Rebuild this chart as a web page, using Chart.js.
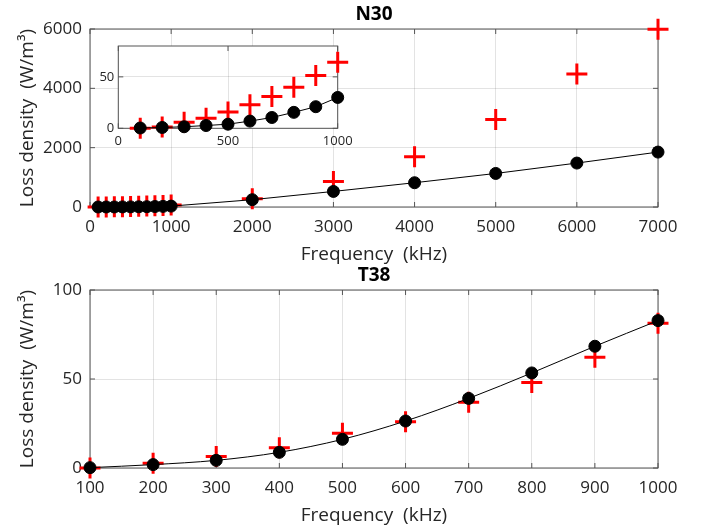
<!DOCTYPE html>
<html>
<head>
<meta charset="utf-8">
<script src="https://cdn.jsdelivr.net/npm/chart.js@4.4.1/dist/chart.umd.min.js"></script>
<style>
  body { margin: 0; background: #fff; }
  #wrap { position: relative; width: 709px; height: 529px; overflow: hidden; }
  #wrap canvas { position: absolute; }
</style>
</head>
<body>
<div id="wrap">
  <canvas id="chartN30" width="709" height="268" style="left:0;top:0"></canvas>
  <canvas id="chartT38" width="709" height="268" style="left:0;top:261px"></canvas>
  <canvas id="chartInset" width="300" height="125" style="left:58px;top:30px"></canvas>
</div>
<script>
// N30 panel (top) and its zoom inset
const freqN30 = [100, 200, 300, 400, 500, 600, 700, 800, 900, 1000, 2000, 3000, 4000, 5000, 6000, 7000];
const lossN30Calc = [0.3, 0.8, 1.5, 2.7, 4, 7, 10.5, 15.5, 21, 30, 246, 525, 818, 1131, 1481, 1851];
const lossN30Meas = [0, 1.3, 5.8, 9.7, 15.8, 22.9, 31, 40, 51.3, 64.2, 279, 862, 1693, 2948, 4486, 5990];
const n30XTicks = [0, 1000, 2000, 3000, 4000, 5000, 6000, 7000];
const n30YTicks = [0, 2000, 4000, 6000];
const insetXTicks = [0, 500, 1000];
const insetYTicks = [0, 50];

// T38 panel (bottom)
const freqT38 = [100, 200, 300, 400, 500, 600, 700, 800, 900, 1000];
const lossT38Calc = [0.2, 1.9, 4.3, 8.8, 16.1, 26.4, 39.1, 53.4, 68.4, 82.8];
const lossT38Meas = [0, 2.6, 6.4, 11.4, 19.5, 26.0, 36.9, 48.1, 62.2, 81.3];
const t38XTicks = [100, 200, 300, 400, 500, 600, 700, 800, 900, 1000];
const t38YTicks = [0, 50, 100];

const textColor = '#262626';
const gridColor = 'rgba(38,38,38,0.13)';
const frameColor = '#555555';
const fontFamily = '"Open Sans", "Noto Sans", sans-serif';

const pts = (xs, ys) => xs.map((x, i) => ({ x: x, y: ys[i] }));
const fixTicks = list => scale => { scale.ticks = list.map(v => ({ value: v })); };

// box round the plot area plus short inward ticks, matlab style
const framePlugin = {
  id: 'frame',
  beforeDatasetsDraw(chart) {
    const { ctx, chartArea: a, scales } = chart;
    const len = 5;
    ctx.save();
    ctx.strokeStyle = frameColor;
    ctx.lineWidth = 1;
    ctx.strokeRect(a.left, a.top, a.right - a.left, a.bottom - a.top);
    ctx.beginPath();
    scales.x.ticks.forEach(t => {
      const px = scales.x.getPixelForValue(t.value);
      ctx.moveTo(px, a.bottom); ctx.lineTo(px, a.bottom - len);
      ctx.moveTo(px, a.top); ctx.lineTo(px, a.top + len);
    });
    scales.y.ticks.forEach(t => {
      const py = scales.y.getPixelForValue(t.value);
      ctx.moveTo(a.left, py); ctx.lineTo(a.left + len, py);
      ctx.moveTo(a.right, py); ctx.lineTo(a.right - len, py);
    });
    ctx.stroke();
    ctx.restore();
  }
};

const whiteBoxPlugin = {
  id: 'whiteBox',
  beforeDraw(chart) {
    const { ctx, chartArea: a } = chart;
    ctx.save();
    ctx.fillStyle = '#ffffff';
    ctx.fillRect(a.left, a.top, a.right - a.left, a.bottom - a.top);
    ctx.restore();
  }
};

const panelTitle = text => ({
  id: 'panelTitle',
  afterDraw(chart) {
    const { ctx, chartArea: a } = chart;
    ctx.save();
    ctx.font = 'bold 19px ' + fontFamily;
    ctx.fillStyle = '#000000';
    ctx.textAlign = 'center';
    ctx.textBaseline = 'middle';
    ctx.fillText(text, (a.left + a.right) / 2, a.top - 14);
    ctx.restore();
  }
});

function makeDatasets(xs, calc, meas, smooth) {
  return [
    {
      data: pts(xs, calc),
      borderColor: '#000000',
      borderWidth: 1,
      pointRadius: 6,
      pointBackgroundColor: '#000000',
      pointBorderColor: '#000000',
      pointBorderWidth: 1,
      cubicInterpolationMode: smooth ? 'monotone' : 'default',
      clip: false
    },
    {
      data: pts(xs, meas),
      showLine: false,
      pointStyle: 'cross',
      pointRadius: 10.5,
      pointBorderColor: '#ff0000',
      pointBorderWidth: 3,
      clip: false
    }
  ];
}

function axisOpts(min, max, ticks, title, fontSize, pad, sizeFix, horizontal) {
  const o = {
    type: 'linear',
    min: min,
    max: max,
    afterBuildTicks: fixTicks(ticks),
    border: { display: false },
    grid: { color: gridColor, drawTicks: false, lineWidth: 1 },
    ticks: {
      color: textColor,
      font: { family: fontFamily, size: fontSize },
      padding: pad,
      maxRotation: 0,
      callback: v => String(v)
    },
    afterFit: scale => { if (horizontal) scale.height = sizeFix; else scale.width = sizeFix; }
  };
  if (title) {
    o.title = {
      display: true,
      text: title,
      color: textColor,
      font: { family: fontFamily, size: 19 },
      padding: horizontal ? { top: 0, bottom: 2 } : { top: 16, bottom: 0 }
    };
  }
  return o;
}

const baseOptions = {
  responsive: false,
  animation: false,
  events: [],
  layout: { padding: { top: 29, right: 51, left: 0, bottom: 0 } },
  plugins: { legend: { display: false }, tooltip: { enabled: false } }
};

new Chart(document.getElementById('chartN30'), {
  type: 'line',
  data: { datasets: makeDatasets(freqN30, lossN30Calc, lossN30Meas, false) },
  options: {
    ...baseOptions,
    scales: {
      x: axisOpts(0, 7000, n30XTicks, 'Frequency  (kHz)', 17, 10, 61, true),
      y: axisOpts(0, 6000, n30YTicks, 'Loss density  (W/m³)', 17, 8, 90, false)
    }
  },
  plugins: [framePlugin, panelTitle('N30')]
});

new Chart(document.getElementById('chartT38'), {
  type: 'line',
  data: { datasets: makeDatasets(freqT38, lossT38Calc, lossT38Meas, true) },
  options: {
    ...baseOptions,
    scales: {
      x: axisOpts(100, 1000, t38XTicks, 'Frequency  (kHz)', 17, 10, 61, true),
      y: axisOpts(0, 100, t38YTicks, 'Loss density  (W/m³)', 17, 8, 90, false)
    }
  },
  plugins: [framePlugin, panelTitle('T38')]
});

// inset: first ten points of the N30 series
new Chart(document.getElementById('chartInset'), {
  type: 'line',
  data: { datasets: makeDatasets(freqN30.slice(0, 10), lossN30Calc.slice(0, 10), lossN30Meas.slice(0, 10), false) },
  options: {
    ...baseOptions,
    layout: { padding: { top: 16, right: 20.3, left: 0, bottom: 0 } },
    scales: {
      x: axisOpts(0, 1000, insetXTicks, null, 13, 5, 26.7, true),
      y: axisOpts(0, 80, insetYTicks, null, 13, 4, 60.3, false)
    }
  },
  plugins: [whiteBoxPlugin, framePlugin]
});
</script>
</body>
</html>
